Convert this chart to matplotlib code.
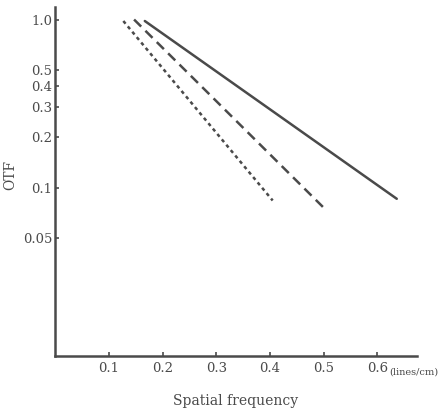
import matplotlib.pyplot as plt
from matplotlib.ticker import FixedLocator, NullLocator
from matplotlib.transforms import blended_transform_factory

# frequency (lines/cm) and OTF at the ends of each straight line
freq_solid = [0.167, 0.636]
otf_solid = [0.98, 0.086]
freq_dashed = [0.147, 0.502]
otf_dashed = [1.0, 0.075]
freq_dotted = [0.127, 0.405]
otf_dotted = [0.98, 0.084]

xticks = [0.1, 0.2, 0.3, 0.4, 0.5, 0.6]
yticks = [1.0, 0.5, 0.4, 0.3, 0.2, 0.1, 0.05]
ytick_labels = ["1.0", "0.5", "0.4", "0.3", "0.2", "0.1", "0.05"]

plt.rcParams['font.family'] = ['DejaVu Serif']
ink = '#4a4a4a'

fig = plt.figure(figsize=(4.48, 4.13), dpi=100)
ax = fig.add_axes([0.123, 0.138, 0.807, 0.844])

ax.plot(freq_solid, otf_solid, color=ink, lw=1.8, solid_capstyle='round')
ax.plot(freq_dashed, otf_dashed, color=ink, lw=1.8, linestyle=(0, (4, 2.4)))
ax.plot(freq_dotted, otf_dotted, color=ink, lw=1.8, linestyle=(0, (1.4, 1.4)))

ax.set_yscale('log')
ax.set_xlim(0, 0.673)
ax.set_ylim(0.01, 1.18)

ax.yaxis.set_major_locator(FixedLocator(yticks))
ax.yaxis.set_minor_locator(NullLocator())
ax.set_yticklabels(ytick_labels)
ax.set_xticks(xticks)
ax.set_xticklabels([str(v) for v in xticks])

for side in ['top', 'right']:
    ax.spines[side].set_visible(False)
for side in ['left', 'bottom']:
    ax.spines[side].set_linewidth(1.8)
    ax.spines[side].set_color(ink)

ax.tick_params(axis='both', direction='in', length=3, width=1.2, color=ink,
               labelsize=9.5, labelcolor=ink)
ax.tick_params(axis='y', pad=2)
ax.tick_params(axis='x', pad=4)

trans = blended_transform_factory(ax.transData, ax.transAxes)
ax.text(0.622, -0.047, "(lines/cm)", transform=trans, fontsize=7,
        color=ink, ha='left', va='center')

ax.set_ylabel('OTF', color=ink, fontsize=10)
ax.yaxis.set_label_coords(-0.105, 0.52)
ax.set_xlabel('Spatial frequency', color=ink, fontsize=10, labelpad=14)

plt.savefig('out.png', dpi=100)
plt.close()
